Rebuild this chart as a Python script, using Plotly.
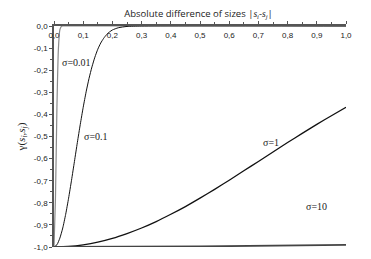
import plotly.graph_objects as go

# sigma = 0.01
x_s001 = [0.0, 0.005, 0.01, 0.015, 0.02, 0.025, 0.03, 0.05, 1.0]
y_s001 = [-1.0, -0.78, -0.37, -0.105, -0.018, -0.002, 0.0, 0.0, 0.0]
# sigma = 0.1
x_s01 = [0.0, 0.01, 0.02, 0.03, 0.04, 0.05, 0.06, 0.07, 0.08, 0.09, 0.10, 0.11, 0.12, 0.13, 0.14,
         0.15, 0.16, 0.17, 0.18, 0.19, 0.20, 0.22, 0.25, 0.30, 1.0]
y_s01 = [-1.0, -0.99, -0.96, -0.914, -0.852, -0.779, -0.698, -0.613, -0.527, -0.445, -0.368,
         -0.298, -0.237, -0.185, -0.141, -0.105, -0.077, -0.056, -0.039, -0.027, -0.018,
         -0.008, -0.002, 0.0, 0.0]
# sigma = 1
x_s1 = [0.0, 0.05, 0.1, 0.15, 0.2, 0.25, 0.3, 0.35, 0.4, 0.45, 0.5, 0.55, 0.6, 0.65, 0.7,
        0.75, 0.8, 0.85, 0.9, 0.95, 1.0]
y_s1 = [-1.0, -0.9975, -0.99, -0.978, -0.961, -0.939, -0.914, -0.885, -0.852, -0.817, -0.779,
        -0.739, -0.698, -0.655, -0.613, -0.570, -0.527, -0.486, -0.445, -0.406, -0.368]
# sigma = 10
x_s10 = [0.0, 0.5, 1.0]
y_s10 = [-1.0, -0.9975, -0.99]

x_ticks = [0.0, 0.1, 0.2, 0.3, 0.4, 0.5, 0.6, 0.7, 0.8, 0.9, 1.0]
x_labels = ["0,0", "0,1", "0,2", "0,3", "0,4", "0,5", "0,6", "0,7", "0,8", "0,9", "1,0"]
y_ticks = [0.0, -0.1, -0.2, -0.3, -0.4, -0.5, -0.6, -0.7, -0.8, -0.9, -1.0]
y_labels = ["0,0", "-0,1", "-0,2", "-0,3", "-0,4", "-0,5", "-0,6", "-0,7", "-0,8", "-0,9", "-1,0"]

labels = ["σ=0.01", "σ=0.1", "σ=1", "σ=10"]
label_x = [0.021, 0.096, 0.709, 0.856]
label_y = [-0.164, -0.5, -0.527, -0.818]

fig = go.Figure()
fig.add_trace(go.Scatter(x=x_s001, y=y_s001, mode="lines",
                         line=dict(color="#8a8a8a", width=1.2, shape="spline", smoothing=0.6)))
fig.add_trace(go.Scatter(x=x_s01, y=y_s01, mode="lines",
                         line=dict(color="#111111", width=1, shape="spline", smoothing=0.6)))
fig.add_trace(go.Scatter(x=x_s1, y=y_s1, mode="lines",
                         line=dict(color="#111111", width=1.3, shape="spline", smoothing=0.6)))
fig.add_trace(go.Scatter(x=x_s10, y=y_s10, mode="lines",
                         line=dict(color="#444444", width=1.8)))

for t, x, y in zip(labels, label_x, label_y):
    fig.add_annotation(x=x, y=y, text=t, showarrow=False, xanchor="left", yanchor="middle",
                       font=dict(family="Liberation Serif", size=10, color="#222"))

fig.update_layout(
    width=363, height=251,
    margin=dict(l=46, r=25, t=18, b=12),
    paper_bgcolor="white", plot_bgcolor="white",
    showlegend=False,
    title=dict(text="Absolute difference of sizes |<i><span style='font-family:Liberation Serif'>s<sub>i</sub></span></i>-<i><span style='font-family:Liberation Serif'>s<sub>j</sub></span></i>|",
               x=0.495, xanchor="center", xref="paper", y=0.976, yref="container", yanchor="middle",
               font=dict(family="Open Sans", size=9.5, color="#222")),
    xaxis=dict(side="top", range=[0, 1], tickvals=x_ticks, ticktext=x_labels,
               ticks="outside", ticklen=3, tickcolor="#555", ticklabelposition="inside",
               ticklabeloverflow="allow", automargin=False, ticklabelstandoff=5,
               showline=True, linecolor="#555", linewidth=1.5, showgrid=False, zeroline=False,
               tickfont=dict(family="Liberation Sans", size=8, color="#222"),
               minor=dict(ticks="outside", ticklen=2, dtick=0.05, tick0=0, tickcolor="#555")),
    yaxis=dict(range=[-1, 0], tickvals=y_ticks, ticktext=y_labels,
               ticks="outside", ticklen=3, tickcolor="#555", automargin=False,
               ticklabeloverflow="allow",
               showline=True, linecolor="#555", linewidth=1.5, showgrid=False, zeroline=False,
               tickfont=dict(family="Liberation Sans", size=8, color="#222"),
               minor=dict(ticks="outside", ticklen=2, dtick=0.05, tick0=0, tickcolor="#555"),
               title=dict(text="γ(<i>s<sub>i</sub></i>,<i>s<sub>j</sub></i>)", standoff=6,
                          font=dict(family="Liberation Serif", size=11, color="#222"))),
)

fig.write_html("out.html")
